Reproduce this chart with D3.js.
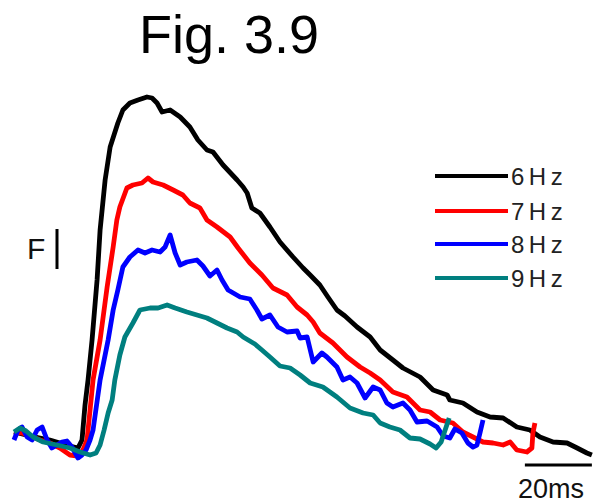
<!DOCTYPE html>
<html>
<head>
<meta charset="utf-8">
<script src="https://cdn.jsdelivr.net/npm/d3@7"></script>
<style>
  html, body { margin: 0; padding: 0; background: #fff; }
  svg { display: block; }
  text { font-family: "Liberation Sans", Arial, sans-serif; }
</style>
</head>
<body>
<script>
// Force traces recorded at four stimulation frequencies.
// Time in ms, force in arbitrary units (baseline ~ 0).
const seriesNames = ["6 Hz", "7 Hz", "8 Hz", "9 Hz"];
const seriesColors = ["#000000", "#ff0000", "#0000ff", "#007f7f"];

const trace6Hz = [
  [0,0.8],[2.4,0.6],[4.8,0.4],[7.8,0.2],[10.7,0],[13.7,-0.3],[16.7,-0.6],[19.1,-0.8],
  [20.3,0],[21.2,3.5],[22.1,6.0],[23.3,10.0],[24.8,16.0],[25.7,21.0],[27.2,26.0],
  [28.7,29.3],[31.0,31.7],[32.5,33.0],[34.6,33.7],[37.0,34.0],[39.7,34.3],[41.2,34.2],
  [42.7,33.7],[44.2,32.8],[46.6,33.0],[49.6,32.3],[52.5,31.3],[54.9,30.0],[57.6,29.0],
  [59.4,28.8],[62.4,27.5],[66.6,26.0],[68.4,25.3],[69.6,24.7],[71.0,23.2],[73.4,22.7],
  [76.4,21.3],[79.4,19.8],[83.3,18.3],[86.3,17.2],[88.4,16.5],[91.3,15.5],[93.7,14.3],
  [96.4,13.0],[98.8,12.4],[102.4,11.3],[106.3,10.3],[109.3,9.0],[113.1,8.0],[116.1,7.2],
  [121.2,6.3],[125.1,5.0],[129.3,4.5],[130.1,4.0],[134.0,3.7],[138.2,2.8],[142.1,2.3],
  [146.0,2.2],[150.1,1.3],[154.0,1.0],[157.0,0.3],[160.9,-0.2],[165.1,-0.3],[168.1,-0.8],
  [171.0,-1.3],[172.5,-1.5]
];

const trace7Hz = [
  [0,0.8],[2.4,0.7],[4.8,0.4],[7.8,0],[10.7,-0.3],[13.7,-0.8],[16.7,-1.5],[19.1,-1.6],
  [20.6,-1.0],[21.8,0],[23.6,6.0],[25.7,10.0],[27.8,15.3],[29.6,19.3],[30.7,22.0],
  [31.6,23.3],[33.7,25.2],[35.5,25.5],[38.2,25.7],[40.0,26.2],[41.5,25.8],[44.5,25.5],
  [47.5,25.0],[50.4,24.5],[52.5,23.7],[55.5,23.2],[57.6,22.0],[60.6,21.3],[64.5,20.3],
  [66.9,19.2],[70.4,17.7],[74.0,16.5],[77.3,15.2],[81.5,14.5],[84.5,13.3],[87.5,12.5],
  [89.3,11.8],[91.3,10.7],[95.2,9.7],[99.4,8.3],[103.3,7.3],[106.3,6.7],[109.3,6.0],
  [113.1,4.8],[117.3,4.3],[121.2,3.0],[124.2,2.8],[127.2,2.0],[131.0,1.7],[134.0,0.8],
  [137.0,0.3],[140.0,-0.2],[143.0,-0.3],[146.0,-0.5],[148.1,-0.2],[150.1,-1.0],
  [153.1,-1.2],[154.6,-0.8],[154.9,0.7],[155.5,1.7]
];

const trace8Hz = [
  [0,0],[1.2,1.0],[2.4,1.3],[3.9,0.3],[5.4,0],[6.9,1.0],[8.4,1.3],[9.9,0],[11.3,-0.8],
  [12.8,-0.5],[14.3,-0.2],[15.8,-0.1],[17.3,-0.7],[19.1,-1.8],[20.3,-1.5],[21.5,-1.0],
  [22.7,0],[23.6,1.0],[25.7,6.0],[28.1,10.0],[29.6,13.0],[31.0,15.0],[32.5,17.3],
  [34.6,18.3],[37.0,19.0],[39.1,18.7],[41.2,19.0],[43.6,18.8],[45.1,19.3],[46.6,20.5],
  [48.1,18.7],[49.6,17.5],[51.6,17.8],[54.6,18.0],[56.4,17.4],[58.5,16.4],[60.6,17.0],
  [62.1,16.0],[63.9,15.0],[67.5,14.3],[70.4,14.1],[72.5,13.0],[74.0,12.1],[76.4,12.5],
  [78.8,11.3],[81.5,10.8],[84.5,10.9],[85.4,10.2],[87.5,10.3],[89.3,7.8],[91.9,8.7],
  [93.4,8.3],[96.4,7.3],[98.2,6.0],[100.3,6.3],[102.4,5.7],[104.8,4.2],[107.2,5.3],
  [109.3,5.0],[111.3,3.7],[113.1,3.3],[116.1,3.7],[118.2,3.0],[120.3,1.8],[123.3,1.9],
  [126.3,1.3],[128.1,0.4],[130.1,0.2],[131.6,1.1],[133.7,0.7],[135.5,-0.3],[137.0,-0.7],
  [138.2,-0.5],[139.1,0.7],[140.0,2.0]
];

const trace9Hz = [
  [0,0.8],[1.8,1.2],[3.6,0.9],[5.7,0.3],[8.7,-0.2],[12.8,-0.5],[16.7,-0.8],[19.7,-1.2],
  [22.7,-1.5],[24.5,-1.3],[25.7,-0.5],[26.9,1.0],[28.1,2.7],[29.3,4.0],[30.1,6.0],
  [31.6,8.5],[33.1,10.3],[35.5,11.7],[37.6,13.0],[40.6,13.2],[43.0,13.2],[45.7,13.5],
  [48.1,13.2],[51.6,12.8],[54.6,12.5],[57.6,12.2],[60.6,11.7],[63.6,11.2],[66.6,10.8],
  [68.4,10.3],[71.9,9.6],[74.0,9.0],[76.4,8.3],[79.4,7.4],[82.4,7.2],[85.4,6.5],
  [88.4,5.7],[92.2,5.3],[96.4,4.3],[100.3,3.2],[104.2,2.7],[107.2,2.5],[109.3,1.7],
  [112.2,1.3],[115.2,1.0],[118.2,0.2],[121.2,0.1],[124.2,-0.4],[126.0,-0.8],[127.5,-0.2],
  [129.0,1.3],[129.9,2.2]
];

const traces = [trace6Hz, trace7Hz, trace8Hz, trace9Hz];

// Scale bars: 20 ms of time, 4 units of force.
const timeBarMs = 20;
const timeBarLabel = "20ms";
const forceBarUnits = 4;
const forceBarLabel = "F";
const titleText = "Fig. 3.9";

const W = 595, H = 504;
const svg = d3.select("body").append("svg")
  .attr("width", W).attr("height", H)
  .style("background", "#fff");

const x = d3.scaleLinear().domain([0, 175]).range([14, 14 + 175 * 3.35]);
const y = d3.scaleLinear().domain([-2, 40]).range([460, 40]);

// Title
svg.append("text")
  .attr("x", 139).attr("y", 53)
  .attr("font-size", 54)
  .attr("fill", "#000")
  .text(titleText);

// Traces
const line = d3.line().x(d => x(d[0])).y(d => y(d[1]));
svg.append("g").selectAll("path")
  .data(traces)
  .join("path")
  .attr("d", line)
  .attr("fill", "none")
  .attr("stroke", (d, i) => seriesColors[i])
  .attr("stroke-width", 4.8)
  .attr("stroke-linejoin", "round")
  .attr("stroke-linecap", "butt");

// Legend
const legend = svg.append("g");
const legendY = [176, 211, 244, 278];
seriesNames.forEach((name, i) => {
  legend.append("line")
    .attr("x1", 435).attr("x2", 508)
    .attr("y1", legendY[i]).attr("y2", legendY[i])
    .attr("stroke", seriesColors[i])
    .attr("stroke-width", 4);
  legend.append("text")
    .attr("x", 511).attr("y", legendY[i] + 9)
    .attr("font-size", 24)
    .attr("letter-spacing", 4.5)
    .attr("fill", "#222")
    .text(name.replace(" ", ""));
});

// Force scale bar
const fBase = 17.1;
svg.append("line")
  .attr("x1", 57).attr("x2", 57)
  .attr("y1", y(fBase)).attr("y2", y(fBase + forceBarUnits))
  .attr("stroke", "#000").attr("stroke-width", 3);
svg.append("text")
  .attr("x", 27).attr("y", 259)
  .attr("font-size", 30)
  .attr("fill", "#111")
  .text(forceBarLabel);

// Time scale bar
const tEnd = 172.5;
svg.append("line")
  .attr("x1", x(tEnd - timeBarMs)).attr("x2", x(tEnd))
  .attr("y1", 465).attr("y2", 465)
  .attr("stroke", "#000").attr("stroke-width", 3);
svg.append("text")
  .attr("x", 518).attr("y", 498)
  .attr("font-size", 27)
  .attr("fill", "#111")
  .text(timeBarLabel);
</script>
</body>
</html>
